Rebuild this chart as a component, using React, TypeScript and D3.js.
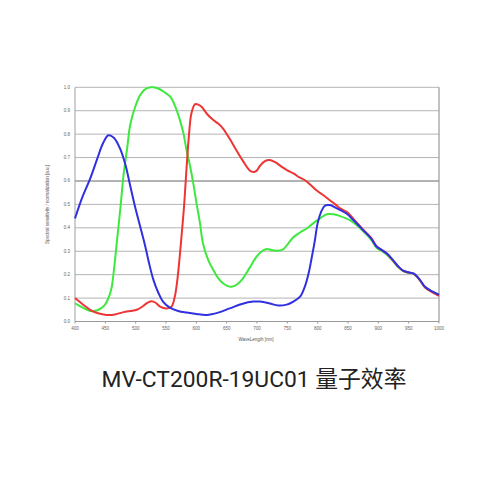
import React from "react";
import * as d3 from "d3";

const xTicks = [400, 450, 500, 550, 600, 650, 700, 750, 800, 850, 900, 950, 1000];
const yTicks = [0, 0.1, 0.2, 0.3, 0.4, 0.5, 0.6, 0.7, 0.8, 0.9, 1.0];

const blueWl = [400, 412, 425, 436, 446, 455, 464, 474, 483, 491, 499, 507, 515, 522, 529, 537, 545, 557, 570, 584, 600, 617, 636, 655, 675, 694, 705, 721, 735, 749, 760, 771, 779, 785, 790, 795, 800, 806, 812, 820, 830, 840, 848, 860, 875, 888, 897, 906, 914, 925, 933, 941, 950, 958, 968, 977, 988, 1000];
const blueV = [0.44, 0.53, 0.61, 0.69, 0.76, 0.795, 0.785, 0.74, 0.67, 0.58, 0.49, 0.41, 0.33, 0.25, 0.18, 0.125, 0.085, 0.058, 0.045, 0.038, 0.032, 0.028, 0.038, 0.056, 0.075, 0.085, 0.085, 0.077, 0.068, 0.072, 0.085, 0.106, 0.15, 0.205, 0.27, 0.34, 0.42, 0.47, 0.495, 0.497, 0.485, 0.472, 0.46, 0.43, 0.39, 0.355, 0.32, 0.305, 0.29, 0.26, 0.235, 0.217, 0.21, 0.205, 0.18, 0.148, 0.13, 0.115];

const greenWl = [400, 412, 425, 437, 449, 455, 460, 465, 469, 475, 480, 486, 491, 499, 507, 515, 524, 529, 537, 547, 557, 565, 573, 579, 584, 590, 595, 600, 606, 611, 620, 628, 636, 644, 651, 658, 667, 677, 688, 699, 708, 716, 724, 732, 743, 752, 760, 771, 782, 793, 804, 815, 826, 837, 853, 865, 875, 888, 897, 906, 914, 925, 933, 941, 950, 958, 968, 977, 988, 1000];
const greenV = [0.078, 0.06, 0.045, 0.048, 0.07, 0.1, 0.14, 0.24, 0.34, 0.49, 0.625, 0.74, 0.84, 0.915, 0.965, 0.99, 1.0, 1.0, 0.995, 0.98, 0.96, 0.92, 0.86, 0.8, 0.73, 0.66, 0.59, 0.51, 0.42, 0.333, 0.26, 0.22, 0.185, 0.163, 0.152, 0.148, 0.158, 0.184, 0.23, 0.276, 0.3, 0.31, 0.305, 0.302, 0.308, 0.335, 0.36, 0.38, 0.397, 0.42, 0.44, 0.458, 0.458, 0.45, 0.433, 0.41, 0.385, 0.35, 0.315, 0.3, 0.285, 0.255, 0.232, 0.215, 0.208, 0.203, 0.178, 0.146, 0.128, 0.112];

const redWl = [400, 412, 425, 438, 452, 466, 480, 491, 502, 512, 519, 526, 533, 541, 551, 559, 564, 568, 572, 576, 580, 584, 588, 592, 598, 604, 609, 618, 628, 636, 644, 655, 666, 677, 688, 694, 699, 705, 713, 721, 730, 741, 750, 760, 770, 779, 789, 798, 809, 820, 830, 837, 848, 860, 875, 888, 897, 906, 914, 925, 933, 941, 950, 958, 968, 977, 988, 1000];
const redV = [0.1, 0.075, 0.05, 0.035, 0.028, 0.03, 0.04, 0.045, 0.05, 0.065, 0.08, 0.087, 0.08, 0.062, 0.056, 0.063, 0.1, 0.163, 0.26, 0.376, 0.5, 0.66, 0.8, 0.89, 0.928, 0.925, 0.916, 0.885, 0.86, 0.845, 0.824, 0.78, 0.731, 0.685, 0.645, 0.638, 0.643, 0.665, 0.685, 0.69, 0.68, 0.66, 0.645, 0.632, 0.615, 0.603, 0.582, 0.56, 0.54, 0.518, 0.498, 0.483, 0.468, 0.435, 0.392, 0.358, 0.322, 0.305, 0.29, 0.258, 0.234, 0.216, 0.209, 0.204, 0.178, 0.145, 0.126, 0.11];

const xLabel = "WaveLength [nm]";
const yLabel = "Spectral sensitivity / normalization [a.u.]";
const title = "MV-CT200R-19UC01 量子效率";

const W = 500, H = 500;
const L = 75, R = 439, T = 87.3, B = 321.5;

export default function App() {
  const x = d3.scaleLinear().domain([400, 1000]).range([L, R]);
  const y = d3.scaleLinear().domain([0, 1]).range([B, T]);
  const line = d3
    .line<[number, number]>()
    .x((d) => x(d[0]))
    .y((d) => y(d[1]))
    .curve(d3.curveCatmullRom.alpha(0.5));
  const series = [
    { wl: greenWl, v: greenV, color: "#3ee83e" },
    { wl: redWl, v: redV, color: "#ee3535" },
    { wl: blueWl, v: blueV, color: "#3030e0" },
  ];
  return (
    <svg width={W} height={H} style={{ position: "absolute", left: 0, top: 0, background: "#fff" }}>
      <rect x={0} y={0} width={W} height={H} fill="#fff" />
      {yTicks.map((t) => (
        <line key={"g" + t} x1={L} x2={R} y1={y(t)} y2={y(t)} stroke={t === 0.6 ? "#9a9a9a" : "#b4b4b4"} strokeWidth={t === 0.6 ? 1.5 : 1} />
      ))}
      <line x1={L} x2={L} y1={T} y2={B} stroke="#a0a0a0" strokeWidth={1} />
      <line x1={R} x2={R} y1={T} y2={B} stroke="#999" strokeWidth={1.2} />
      <line x1={L} x2={R} y1={B} y2={B} stroke="#999" strokeWidth={1} />
      {xTicks.map((t) => (
        <g key={"x" + t}>
          <line x1={x(t)} x2={x(t)} y1={B} y2={B + 2} stroke="#999" />
          <text x={x(t)} y={B + 8} fontSize={4.5} fill="#666" textAnchor="middle" fontFamily="Liberation Sans, Arial, sans-serif">{t}</text>
        </g>
      ))}
      {yTicks.map((t) => (
        <text key={"y" + t} x={L - 5} y={y(t) + 1.5} fontSize={4.5} fill="#666" textAnchor="end" fontFamily="Liberation Sans, Arial, sans-serif">{t.toFixed(1)}</text>
      ))}
      <text x={256} y={341} fontSize={4.5} fill="#555" textAnchor="middle" fontFamily="Liberation Sans, Arial, sans-serif">{xLabel}</text>
      <text transform={`translate(49,${(T + B) / 2}) rotate(-90)`} fontSize={4.5} fill="#555" textAnchor="middle" fontFamily="Liberation Sans, Arial, sans-serif">{yLabel}</text>
      {series.map((s, i) => (
        <path key={i} d={line(s.wl.map((w, j) => [w, s.v[j]] as [number, number])) || ""} fill="none" stroke={s.color} strokeWidth={2} strokeLinejoin="round" />
      ))}
      <text x={254} y={387} fontSize={22.8} fill="#222" textAnchor="middle" fontFamily="Roboto, 'Noto Sans CJK SC', sans-serif">{title}</text>
    </svg>
  );
}
